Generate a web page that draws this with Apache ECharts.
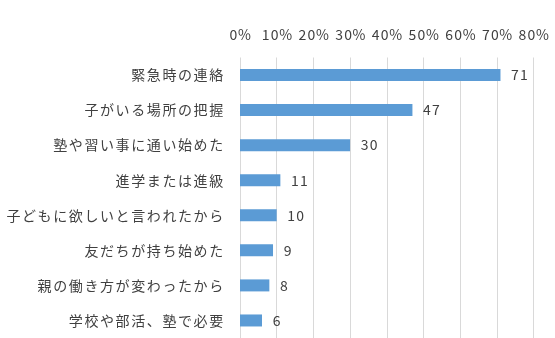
<!DOCTYPE html>
<html>
<head>
<meta charset="utf-8">
<script src="https://cdn.jsdelivr.net/npm/echarts@6/dist/echarts.min.js"></script>
<style>
html,body{margin:0;padding:0;background:#fff;}
#chart{width:555px;height:338px;}
</style>
</head>
<body>
<div id="chart"></div>
<script>
const categories = ["緊急時の連絡","子がいる場所の把握","塾や習い事に通い始めた","進学または進級","子どもに欲しいと言われたから","友だちが持ち始めた","親の働き方が変わったから","学校や部活、塾で必要"];
const values = [71, 47, 30, 11, 10, 9, 8, 6];
const axisMin = 0;
const axisMax = 80;
const axisStep = 10;

const chart = echarts.init(document.getElementById('chart'), null, {renderer: 'canvas'});
const font = '"Noto Sans CJK JP", "Noto Sans", sans-serif';
function spaced(str) {
  return Array.from(String(str)).map(c => (c === '%' ? '{p|' : '{c|') + c + '}').join('');
}
const base = {align: 'center', color: '#404040', fontSize: 14, fontFamily: font};
chart.setOption({
  animation: false,
  backgroundColor: '#ffffff',
  grid: {left: 240, right: 21.5, top: 57.5, height: 282.6},
  xAxis: {
    type: 'value', position: 'top', min: axisMin, max: axisMax, interval: axisStep,
    axisLine: {show: false}, axisTick: {show: false},
    splitLine: {show: true, lineStyle: {color: '#d9d9d9', width: 1}},
    axisLabel: {
      formatter: v => spaced(v + '%'), margin: 16,
      rich: {c: Object.assign({width: 9}, base), p: Object.assign({width: 13}, base)}
    }
  },
  yAxis: {
    type: 'category', data: categories, inverse: true,
    axisLine: {show: false}, axisTick: {show: false},
    axisLabel: {
      formatter: v => spaced(v), margin: 16,
      rich: {c: Object.assign({width: 15.6}, base)}
    }
  },
  series: [{
    type: 'bar', data: values, barWidth: 12,
    itemStyle: {color: '#5B9BD5'},
    label: {
      show: true, position: 'right', distance: 10,
      formatter: p => spaced(p.value),
      rich: {c: Object.assign({width: 9}, base)}
    }
  }]
});
</script>
</body>
</html>
